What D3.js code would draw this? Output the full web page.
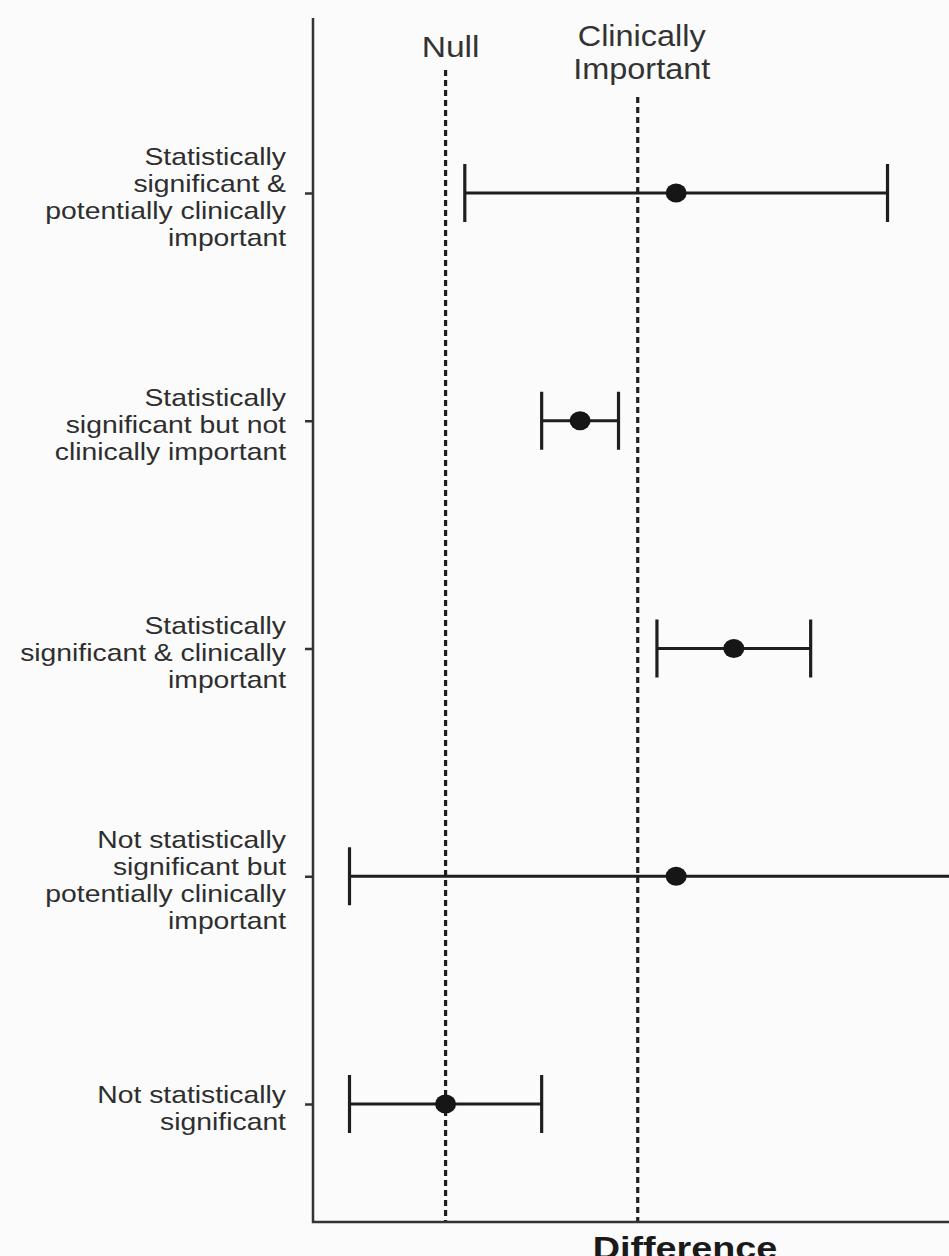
<!DOCTYPE html>
<html>
<head>
<meta charset="utf-8">
<script src="https://cdn.jsdelivr.net/npm/d3@7"></script>
<style>
  html, body { margin: 0; padding: 0; background: #fbfbfb; }
  svg { display: block; }
  text { font-family: "Liberation Sans", Arial, sans-serif; fill: #2e2e2e; }
</style>
</head>
<body>
<svg id="chart" width="949" height="1256"></svg>
<script>
// ---- data ----
const categories = [
  "Statistically\nsignificant &\npotentially clinically\nimportant",
  "Statistically\nsignificant but not\nclinically important",
  "Statistically\nsignificant & clinically\nimportant",
  "Not statistically\nsignificant but\npotentially clinically\nimportant",
  "Not statistically\nsignificant"
];
const estimates = [1.2, 0.7, 1.5, 1.2, 0.0];
const lowerCI   = [0.1, 0.5, 1.1, -0.5, -0.5];
const upperCI   = [2.3, 0.9, 1.9, 3.0, 0.5];
const referenceValues = [0, 1];
const referenceLabels = ["Null", "Clinically\nImportant"];
const xTitle = "Difference";

// ---- layout ----
const W = 949, H = 1256;
const axisX = 313, axisBottom = 1222, axisTop = 18;
const stretch = 1.18;

const svg = d3.select("#chart");
svg.append("rect").attr("width", W).attr("height", H).attr("fill", "#fbfbfb");

const x = d3.scaleLinear().domain([-0.69, 2.62]).range([axisX, W]);
const y = d3.scalePoint().domain(categories).range([193, 1104]);

// reference dashed lines
const refTops = [70, 97];
referenceValues.forEach((v, i) => {
  svg.append("line")
    .attr("x1", x(v)).attr("x2", x(v))
    .attr("y1", refTops[i]).attr("y2", axisBottom)
    .attr("stroke", "#1e1e1e").attr("stroke-width", 3.2)
    .attr("stroke-dasharray", "6,4");
});

// reference labels
const refLabelPos = [{dx: 5, base: 57, size: 30}, {dx: 4, base: 46, size: 29}];
referenceLabels.forEach((lab, i) => {
  const lines = lab.split("\n");
  lines.forEach((ln, j) => {
    svg.append("text")
      .attr("transform", `translate(${x(referenceValues[i]) + refLabelPos[i].dx},${refLabelPos[i].base + j * 33}) scale(1.12,1)`)
      .attr("text-anchor", "middle")
      .attr("font-size", refLabelPos[i].size)
      .style("fill", "#333")
      .text(ln);
  });
});

// axes
const yAxis = d3.axisLeft(y).tickSize(8).tickFormat("");
const gy = svg.append("g").attr("transform", `translate(${axisX},0)`).call(yAxis);
gy.select(".domain").remove();
gy.selectAll(".tick line").attr("stroke", "#333").attr("stroke-width", 2.5);

svg.append("line")
  .attr("x1", axisX).attr("x2", axisX)
  .attr("y1", axisTop).attr("y2", axisBottom + 1)
  .attr("stroke", "#333").attr("stroke-width", 2.5);
svg.append("line")
  .attr("x1", axisX - 1).attr("x2", W)
  .attr("y1", axisBottom).attr("y2", axisBottom)
  .attr("stroke", "#333").attr("stroke-width", 2.5);

// category labels
categories.forEach(cat => {
  const lines = cat.split("\n");
  const n = lines.length;
  lines.forEach((ln, j) => {
    const by = y(cat) + (j - (n - 1) / 2) * 27 + 12;
    svg.append("text")
      .attr("transform", `translate(286,${by}) scale(${stretch},1)`)
      .attr("text-anchor", "end")
      .attr("font-size", 24)
      .text(ln);
  });
});

// error bars
const rows = categories.map((c, i) => ({c, est: estimates[i], lo: lowerCI[i], hi: upperCI[i]}));
const capH = 29;
const g = svg.append("g");
rows.forEach(r => {
  const yy = y(r.c);
  g.append("line").attr("x1", x(r.lo)).attr("x2", x(r.hi)).attr("y1", yy).attr("y2", yy)
    .attr("stroke", "#1e1e1e").attr("stroke-width", 3.2);
  [r.lo, r.hi].forEach(v => {
    g.append("line").attr("x1", x(v)).attr("x2", x(v)).attr("y1", yy - capH).attr("y2", yy + capH)
      .attr("stroke", "#1e1e1e").attr("stroke-width", 3.2);
  });
  g.append("ellipse").attr("cx", x(r.est)).attr("cy", yy).attr("rx", 10.5).attr("ry", 9.5)
    .attr("fill", "#161616");
});

// x title (partly cut by the bottom edge, as in the reference)
svg.append("text")
  .attr("transform", `translate(685,1259) scale(${stretch},1)`)
  .attr("text-anchor", "middle")
  .attr("font-size", 32)
  .attr("font-weight", "bold")
  .style("fill", "#1a1a1a")
  .text(xTitle);
</script>
</body>
</html>
